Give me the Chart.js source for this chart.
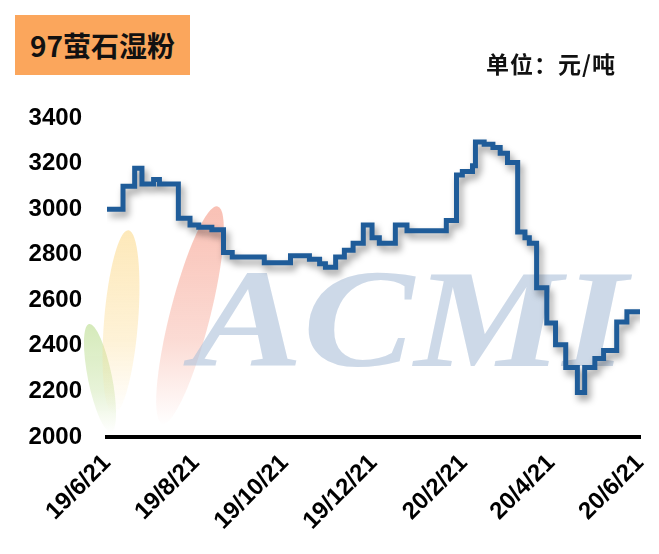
<!DOCTYPE html>
<html>
<head>
<meta charset="utf-8">
<script src="https://cdn.jsdelivr.net/npm/chart.js@4.4.0/dist/chart.umd.min.js"></script>
<style>
  body { margin: 0; background: #fff; }
  #wrap { position: relative; width: 659px; height: 554px; }
  #chart { display: block; }
  #title { position: absolute; left: 15px; top: 15px; width: 175px; height: 60px; background: #fba65c;
           font: bold 28px "Noto Sans CJK SC"; line-height: 60px; text-align: center; color: #111; }
  #unit { position: absolute; left: 486px; top: 46px; font: bold 23px "Noto Sans CJK SC"; letter-spacing: 1px; color: #111; }
</style>
</head>
<body>
<div id="wrap">
  <canvas id="chart" width="659" height="554"></canvas>
  <div id="title">97萤石湿粉</div>
  <div id="unit">单位：元/吨</div>
</div>
<script>
// price change dates and the price from that date on
const dates = ['2019-06-21','2019-07-02','2019-07-10','2019-07-15','2019-07-23','2019-07-27',
  '2019-08-09','2019-08-17','2019-08-23','2019-09-01','2019-09-09','2019-09-15','2019-10-07',
  '2019-10-25','2019-11-07','2019-11-14','2019-11-18','2019-11-25','2019-12-01','2019-12-07',
  '2019-12-14','2019-12-20','2019-12-25','2020-01-05','2020-01-13','2020-02-09','2020-02-16',
  '2020-02-20','2020-02-27','2020-02-29','2020-03-06','2020-03-12','2020-03-17','2020-03-22',
  '2020-03-29','2020-04-03','2020-04-06','2020-04-11','2020-04-18','2020-04-24','2020-05-01',
  '2020-05-09','2020-05-14','2020-05-21','2020-05-27','2020-06-05','2020-06-12','2020-06-21'];
const prices = [3000,3100,3180,3110,3130,3110,
  2960,2930,2920,2910,2810,2790,2765,
  2795,2780,2760,2745,2790,2820,2850,
  2930,2875,2850,2930,2905,2950,3150,
  3165,3190,3295,3285,3270,3245,3205,
  2900,2875,2850,2655,2500,2405,2305,
  2195,2305,2345,2380,2505,2550,2550];

const tickDates = ['2019-06-21','2019-08-21','2019-10-21','2019-12-21','2020-02-21','2020-04-21','2020-06-21'];
const tickLabels = ['19/6/21','19/8/21','19/10/21','19/12/21','20/2/21','20/4/21','20/6/21'];

const start = Date.UTC(2019, 5, 21);
function dayOf(s) {
  const p = s.split('-');
  return (Date.UTC(+p[0], p[1] - 1, +p[2]) - start) / 86400000;
}
const points = dates.map((d, i) => ({ x: dayOf(d), y: prices[i] }));
const tickDays = tickDates.map(dayOf);

// faint ACMI logo behind the line
const watermark = {
  id: 'watermark',
  beforeDatasetsDraw(chart) {
    const c = chart.ctx;
    c.save();
    function petal(cx, cy, rx, ry, rot, col) {
      const g = c.createLinearGradient(cx, cy - ry, cx, cy + ry);
      g.addColorStop(0, 'rgba(' + col + ',0.6)');
      g.addColorStop(0.6, 'rgba(' + col + ',0.35)');
      g.addColorStop(1, 'rgba(' + col + ',0)');
      c.fillStyle = g;
      c.beginPath();
      c.ellipse(cx, cy, rx, ry, rot, 0, Math.PI * 2);
      c.fill();
    }
    petal(100, 378, 12, 55, -0.2, '185,220,140');
    petal(121, 322, 17, 92, 0.08, '252,218,140');
    petal(190, 315, 20, 112, 0.25, '245,150,130');

    c.fillStyle = 'rgba(175,193,218,0.62)';
    c.font = 'bold italic 140px "Liberation Serif"';
    c.textBaseline = 'alphabetic';
    c.translate(192, 366);
    c.scale(1.19, 1);
    c.fillText('ACMI', 0, 0);
    c.restore();
  }
};

const shadow = {
  id: 'shadow',
  beforeDatasetDraw(chart) {
    const c = chart.ctx;
    c.save();
    c.shadowColor = 'rgba(0,0,0,0.4)';
    c.shadowBlur = 7;
    c.shadowOffsetX = 3;
    c.shadowOffsetY = 5;
  },
  afterDatasetDraw(chart) {
    chart.ctx.restore();
  }
};

const ctx = document.querySelector('#chart');

const newChart = new Chart(ctx, {
  type: 'line',
  data: {
    datasets: [{
      data: points,
      stepped: 'before',
      borderColor: '#1f5c99',
      borderWidth: 5,
      pointRadius: 0,
      fill: false
    }]
  },
  options: {
    responsive: false,
    animation: false,
    layout: { padding: { top: 118, right: 19, left: 0, bottom: 0 } },
    plugins: { legend: { display: false }, tooltip: { enabled: false } },
    scales: {
      x: {
        type: 'linear',
        min: 0,
        max: tickDays[tickDays.length - 1],
        afterBuildTicks: s => { s.ticks = tickDays.map(v => ({ value: v })); },
        afterFit: s => { s.height = 117; s.paddingLeft = 0; s.paddingRight = 0; },
        grid: { display: false, drawTicks: false },
        border: { display: true, color: '#000', width: 4 },
        ticks: {
          autoSkip: false,
          minRotation: 45,
          maxRotation: 45,
          padding: 12,
          color: '#000',
          font: { family: 'Liberation Sans', weight: 'bold', size: 24 },
          callback: (v, i) => tickLabels[i]
        }
      },
      y: {
        min: 2000,
        max: 3400,
        afterFit: s => { s.width = 107; },
        grid: { display: false, drawTicks: false },
        border: { display: false },
        ticks: {
          stepSize: 200,
          padding: 25,
          color: '#000',
          font: { family: 'Liberation Sans', weight: 'bold', size: 24 },
          callback: v => String(v)
        }
      }
    }
  },
  plugins: [watermark, shadow]
});
</script>
</body>
</html>
